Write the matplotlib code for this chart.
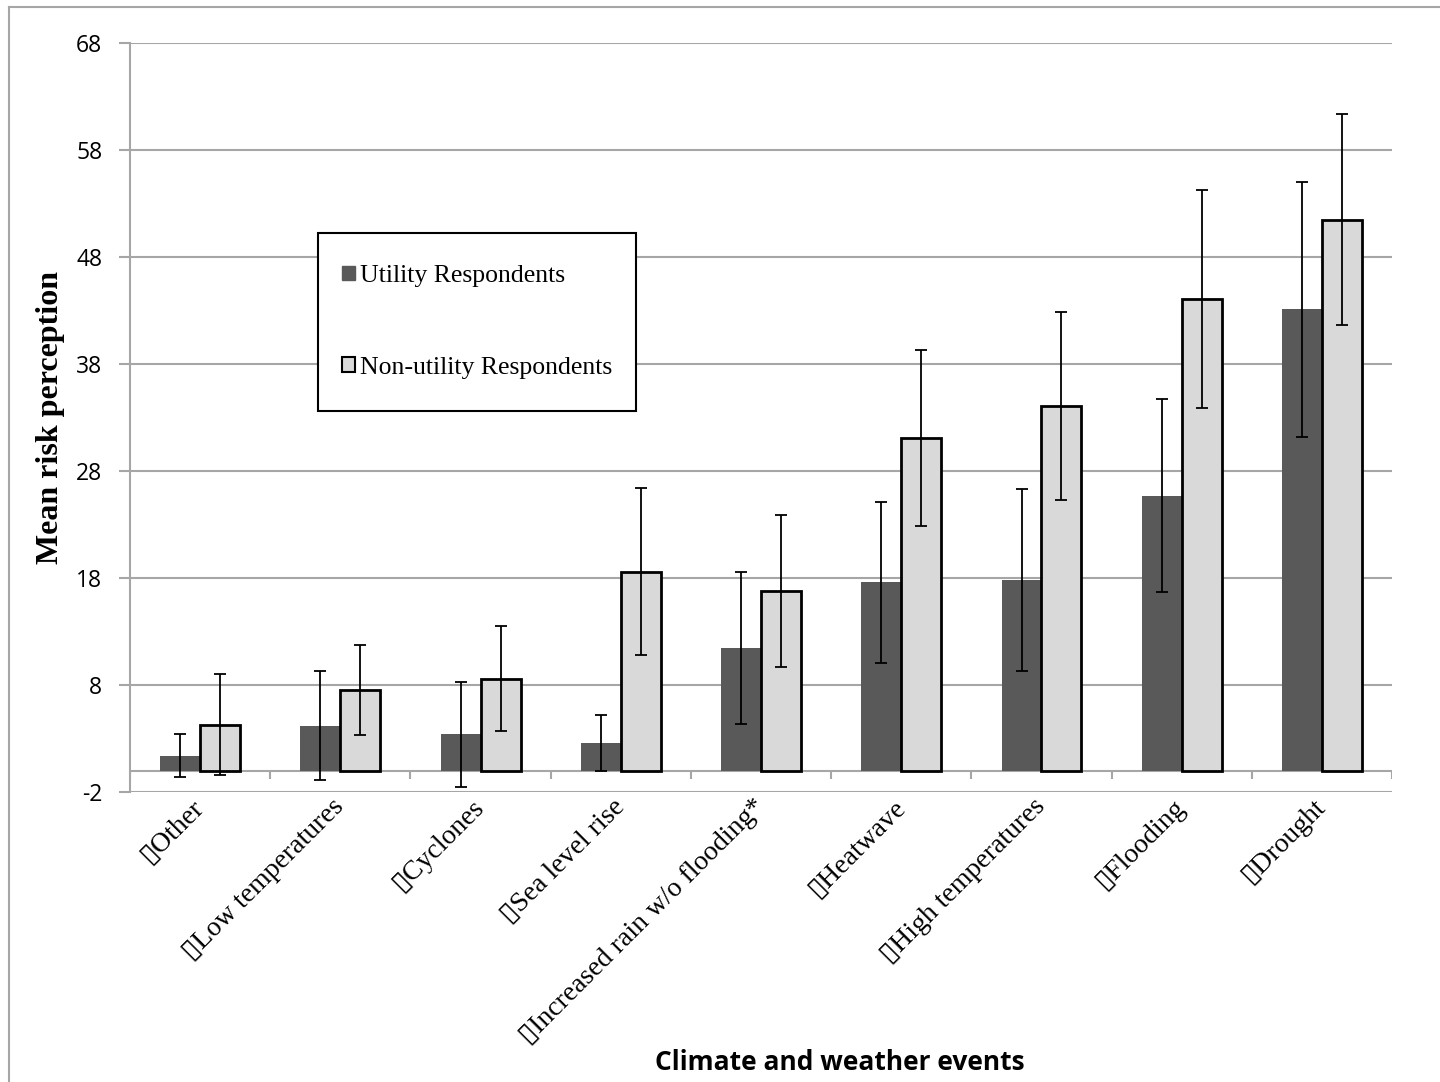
import numpy as np
import matplotlib
matplotlib.use("Agg")
import matplotlib.pyplot as plt
from matplotlib.lines import Line2D

plt.rcParams["axes.unicode_minus"] = False

# data
categories = ["Other", "Low temperatures", "Cyclones", "Sea level rise",
              "Increased rain w/o flooding*", "Heatwave", "High temperatures",
              "Flooding", "Drought"]
utility_mean = [1.4, 4.2, 3.4, 2.6, 11.5, 17.6, 17.8, 25.7, 43.1]
utility_err = [2.0, 5.1, 4.9, 2.6, 7.1, 7.5, 8.5, 9.0, 11.9]
nonutility_mean = [4.3, 7.5, 8.6, 18.6, 16.8, 31.1, 34.1, 44.1, 51.5]
nonutility_err = [4.7, 4.2, 4.9, 7.8, 7.1, 8.2, 8.8, 10.2, 9.9]
yticks = [-2, 8, 18, 28, 38, 48, 58, 68]

fig = plt.figure(figsize=(14.4, 10.82), dpi=100)
ax = fig.add_axes([0.0903, 0.268, 0.8764, 0.6923])

x = np.arange(len(categories))
w = 0.285
err_kw = dict(ecolor="black", elinewidth=1.3, capsize=4.2, capthick=1.3)
ax.bar(x - w / 2, utility_mean, w, color="#595959", yerr=utility_err,
       error_kw=err_kw, label="Utility Respondents", zorder=3)
ax.bar(x + w / 2, nonutility_mean, w, color="#d9d9d9", edgecolor="black",
       linewidth=2, yerr=nonutility_err, error_kw=err_kw,
       label="Non-utility Respondents", zorder=3)

ax.set_xlim(-0.5, len(categories) - 0.5)
ax.set_ylim(-2, 68)
ax.set_yticks(yticks)
ax.yaxis.grid(True, color="#a6a6a6", linewidth=1.5, zorder=0)
ax.set_axisbelow(True)

for s in ["top", "right", "bottom"]:
    ax.spines[s].set_visible(False)
ax.spines["left"].set_color("#a6a6a6")
ax.spines["left"].set_linewidth(1.5)
ax.tick_params(axis="y", length=8, width=1.5, color="#a6a6a6", pad=12,
               labelsize=16.5)
for t in ax.get_yticklabels():
    t.set_family("Open Sans")

# category axis at zero with tick marks between groups
ax.axhline(0, color="#a6a6a6", linewidth=1.5, zorder=2)
ax.vlines(np.arange(len(categories) + 1) - 0.5, -0.75, 0,
          color="#a6a6a6", linewidth=1.5, zorder=2)

ax.set_xticks(x)
ax.set_xticklabels(["\u25af" + c for c in categories], rotation=45,
                   ha="right", va="center", rotation_mode="anchor",
                   family=["Liberation Serif", "DejaVu Sans"], fontsize=20)
ax.tick_params(axis="x", length=0, pad=8)

ax.set_ylabel("Mean risk perception", family="Liberation Serif",
              fontweight="bold", fontsize=23, labelpad=8)
fig.text(0.583, 0.006, "Climate and weather events", family="Open Sans",
         fontweight="bold", fontsize=19, ha="center", va="bottom")

# legend box as in the original
ax.add_patch(plt.Rectangle((0.149, 0.509), 0.252, 0.237, transform=ax.transAxes,
                           facecolor="white", edgecolor="black",
                           linewidth=1.5, zorder=5))
handles = [
    plt.Rectangle((0, 0), 1, 1, facecolor="#595959", edgecolor="#595959"),
    plt.Rectangle((0, 0), 1, 1, facecolor="#d9d9d9", edgecolor="black",
                  linewidth=1.5),
]
leg = ax.legend(handles, ["Utility Respondents", "Non-utility Respondents"],
                loc="center", bbox_to_anchor=(0.275, 0.6275),
                prop={"family": "Liberation Serif", "size": 18.5},
                frameon=False, labelspacing=2.7, borderpad=0,
                handlelength=0.5, handleheight=0.5, handletextpad=0.2,
                borderaxespad=0)
leg.set_zorder(6)

# outer frame of the original figure
fig.add_artist(Line2D([9 / 1440, 9 / 1440], [1 - 7 / 1082, 0], color="#a6a6a6",
                      linewidth=1.5, transform=fig.transFigure))
fig.add_artist(Line2D([9 / 1440, 1], [1 - 7 / 1082, 1 - 7 / 1082],
                      color="#a6a6a6", linewidth=1.5,
                      transform=fig.transFigure))

fig.savefig("out.png", dpi=100)
